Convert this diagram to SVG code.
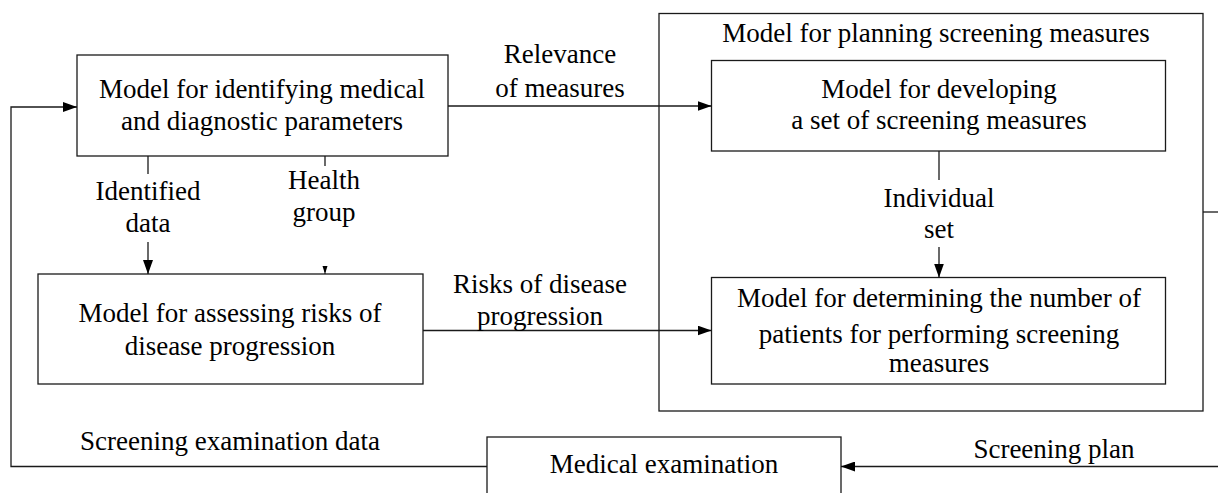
<svg xmlns="http://www.w3.org/2000/svg" width="1218" height="493" viewBox="0 0 1218 493">
<defs>
<marker id="arr" markerWidth="14" markerHeight="10" refX="14" refY="5" orient="auto" markerUnits="userSpaceOnUse">
<path d="M0,0 L14,5 L0,10 Z" fill="#000"/>
</marker>
<marker id="arrs" markerWidth="6" markerHeight="6" refX="8" refY="3" orient="auto" markerUnits="userSpaceOnUse">
<path d="M0,0.5 L8,3 L0,5.5 Z" fill="#000"/>
</marker>
<style>
.box{fill:#fff;stroke:#1a1a1a;stroke-width:1.3}
.t{font-family:"Liberation Serif","Times New Roman","DejaVu Serif",serif;font-size:27px;fill:#000;text-anchor:middle}
.c{fill:none;stroke:#1a1a1a;stroke-width:1.3}
</style>
</defs>
<rect width="1218" height="493" fill="#fff"/>
<g id="planning">
<rect class="box" x="659" y="13.5" width="544" height="397.5"/>
<text class="t" x="936" y="42">Model for planning screening measures</text>
</g>
<g id="identify">
<rect class="box" x="77" y="55" width="371" height="101"/>
<text class="t" x="262" y="98">Model for identifying medical</text>
<text class="t" x="262" y="130">and diagnostic parameters</text>
</g>
<g id="assess">
<rect class="box" x="38" y="274" width="385" height="110"/>
<text class="t" x="230" y="322">Model for assessing risks of</text>
<text class="t" x="230" y="355">disease progression</text>
</g>
<g id="developing">
<rect class="box" x="711.5" y="60.5" width="454" height="90.5"/>
<text class="t" x="939" y="98">Model for developing</text>
<text class="t" x="939" y="129">a set of screening measures</text>
</g>
<g id="determining">
<rect class="box" x="711.5" y="277.5" width="454" height="106.5"/>
<text class="t" x="939" y="307">Model for determining the number of</text>
<text class="t" x="939" y="343">patients for performing screening</text>
<text class="t" x="939" y="372">measures</text>
</g>
<g id="medical">
<rect class="box" x="487" y="437" width="354" height="70"/>
<text class="t" x="664" y="473">Medical examination</text>
</g>
<g id="connectors">
<line class="c" x1="448" y1="106" x2="711.5" y2="106" marker-end="url(#arr)"/>
<line class="c" x1="148" y1="156" x2="148" y2="174"/>
<line class="c" x1="148" y1="242" x2="148" y2="274" marker-end="url(#arr)"/>
<line class="c" x1="325" y1="156" x2="325" y2="166"/>
<line class="c" x1="325" y1="266" x2="325" y2="274" marker-end="url(#arrs)"/>
<line class="c" x1="423" y1="330.5" x2="711.5" y2="330.5" marker-end="url(#arr)"/>
<line class="c" x1="939" y1="151" x2="939" y2="180"/>
<line class="c" x1="939" y1="247" x2="939" y2="277.5" marker-end="url(#arr)"/>
<line class="c" x1="1203" y1="212" x2="1218" y2="212"/>
<line class="c" x1="1218" y1="466.5" x2="841" y2="466.5" marker-end="url(#arr)"/>
<polyline class="c" points="487,466.5 11,466.5 11,107 77,107" marker-end="url(#arr)"/>
</g>
<g id="labels">
<text class="t" x="560" y="63">Relevance</text>
<text class="t" x="560" y="97">of measures</text>
<text class="t" x="148" y="200">Identified</text>
<text class="t" x="148" y="232">data</text>
<text class="t" x="324" y="189">Health</text>
<text class="t" x="324" y="221">group</text>
<text class="t" x="540" y="293">Risks of disease</text>
<text class="t" x="540" y="325">progression</text>
<text class="t" x="939" y="207">Individual</text>
<text class="t" x="939" y="238">set</text>
<text class="t" x="230" y="450">Screening examination data</text>
<text class="t" x="1054" y="458">Screening plan</text>
</g>
</svg>
